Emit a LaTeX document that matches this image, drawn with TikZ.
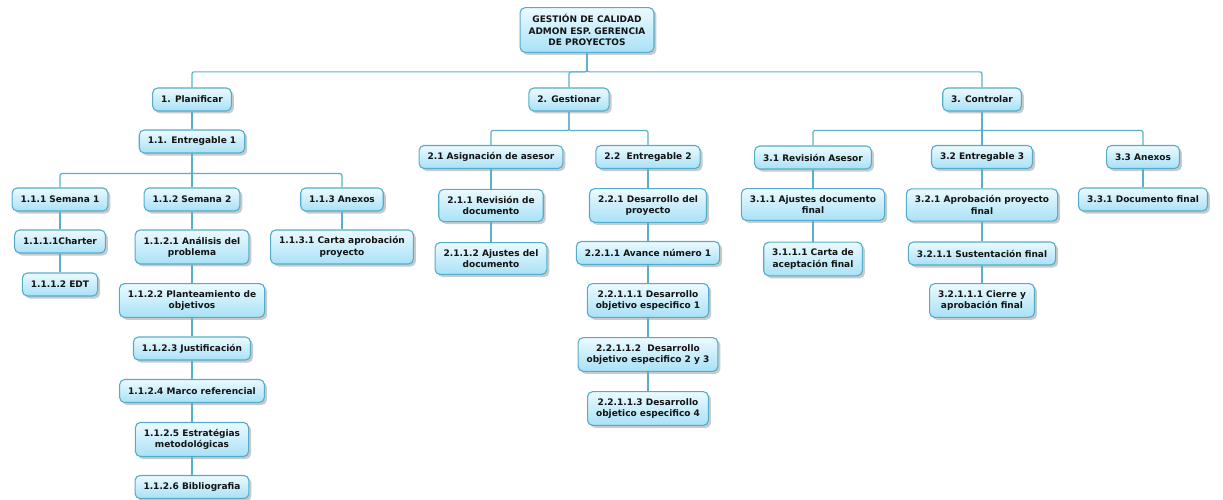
\documentclass[tikz,border=0pt]{standalone}
\usepackage{fontspec}
\setmainfont{DejaVu Sans}
\usetikzlibrary{shadows}
\definecolor{boxtop}{RGB}{236,250,255}
\definecolor{boxbot}{RGB}{168,225,246}
\definecolor{boxline}{RGB}{84,172,204}
\definecolor{connline}{RGB}{88,176,206}
\definecolor{txt}{RGB}{20,20,20}
\tikzset{
  wbs/.style={draw=boxline, line width=1.1pt, rounded corners=5pt,
    top color=boxtop, bottom color=boxbot,
    drop shadow={shadow xshift=2.5pt, shadow yshift=-2.5pt, fill=black!35, opacity=0.6},
    font=\fontsize{9}{11.3}\selectfont\bfseries, text=txt, align=center,
    inner xsep=8.5pt, inner ysep=6.8pt, minimum height=23pt},
  conn/.style={draw=connline, line width=1.2pt, rounded corners=2pt},
}
\begin{document}
\begin{tikzpicture}[x=1pt,y=-1pt]
\useasboundingbox (0,0) rectangle (1223,500);
% level 0
\node[wbs] (root) at (587,30) {GESTIÓN DE CALIDAD\\ADMON ESP. GERENCIA\\DE PROYECTOS};
% level 1
\node[wbs] (p1) at (192,99.5) {1. Planificar};
\node[wbs] (p2) at (569,99.5) {2. Gestionar};
\node[wbs] (p3) at (982,99.5) {3. Controlar};
% branch 1
\node[wbs] (e1) at (192,141.5) {1.1. Entregable 1};
\node[wbs] (s1) at (60,199.5) {1.1.1 Semana 1};
\node[wbs] (s2) at (192,199.5) {1.1.2 Semana 2};
\node[wbs] (a1) at (342,199.5) {1.1.3 Anexos};
\node[wbs] (ch) at (60,241.5) {1.1.1.1Charter};
\node[wbs] (edt) at (60,284.5) {1.1.1.2 EDT};
\node[wbs] (an) at (192,247) {1.1.2.1 Análisis del\\problema};
\node[wbs] (ca) at (342,247) {1.1.3.1 Carta aprobación\\proyecto};
\node[wbs] (pl) at (192,300.5) {1.1.2.2 Planteamiento de\\objetivos};
\node[wbs] (ju) at (192,348.5) {1.1.2.3 Justificación};
\node[wbs] (ma) at (192,391) {1.1.2.4 Marco referencial};
\node[wbs] (es) at (192,439.5) {1.1.2.5 Estratégias\\metodológicas};
\node[wbs] (bi) at (192,487) {1.1.2.6 Bibliografia};
% branch 2
\node[wbs] (g21) at (491,157) {2.1 Asignación de asesor};
\node[wbs] (g22) at (648,157) {2.2\ \ Entregable 2};
\node[wbs] (g211) at (491,205.5) {2.1.1 Revisión de\\documento};
\node[wbs] (g2112) at (491,258.5) {2.1.1.2 Ajustes del\\documento};
\node[wbs] (g221) at (648,205.5) {2.2.1 Desarrollo del\\proyecto};
\node[wbs] (g2211) at (648,253) {2.2.1.1 Avance número 1};
\node[wbs] (g22111) at (648,300.5) {2.2.1.1.1 Desarrollo\\objetivo especifico 1};
\node[wbs] (g22112) at (648,354.5) {2.2.1.1.2\ \ Desarrollo\\objetivo especifico 2 y 3};
\node[wbs] (g22113) at (648,408.5) {2.2.1.1.3 Desarrollo\\objetico especifico 4};
% branch 3
\node[wbs] (c31) at (813,157.5) {3.1 Revisión Asesor};
\node[wbs] (c32) at (982,157) {3.2 Entregable 3};
\node[wbs] (c33) at (1143,157) {3.3 Anexos};
\node[wbs] (c311) at (813,204.5) {3.1.1 Ajustes documento\\final};
\node[wbs] (c3111) at (813,259) {3.1.1.1 Carta de\\aceptación final};
\node[wbs] (c321) at (982,205) {3.2.1 Aprobación proyecto\\final};
\node[wbs] (c3211) at (982,253.5) {3.2.1.1 Sustentación final};
\node[wbs] (c32111) at (982,300.5) {3.2.1.1.1 Cierre y\\aprobación final};
\node[wbs] (c331) at (1143,199.5) {3.3.1 Documento final};
% connectors (drawn behind)
\begin{scope}[on background layer/.try]
\end{scope}
\foreach \c in {p1,p2,p3} \draw[conn] (root.south) -- ++(0,19) -| (\c.north);
\draw[conn] (p1) -- (e1);
\foreach \c in {s1,s2,a1} \draw[conn] (e1.south) -- ++(0,20) -| (\c.north);
\draw[conn] (s1) -- (ch); \draw[conn] (ch) -- (edt);
\draw[conn] (s2) -- (an); \draw[conn] (an) -- (pl); \draw[conn] (pl) -- (ju);
\draw[conn] (ju) -- (ma); \draw[conn] (ma) -- (es); \draw[conn] (es) -- (bi);
\draw[conn] (a1) -- (ca);
\foreach \c in {g21,g22} \draw[conn] (p2.south) -- ++(0,19) -| (\c.north);
\draw[conn] (g21) -- (g211); \draw[conn] (g211) -- (g2112);
\draw[conn] (g22) -- (g221); \draw[conn] (g221) -- (g2211);
\draw[conn] (g2211) -- (g22111); \draw[conn] (g22111) -- (g22112); \draw[conn] (g22112) -- (g22113);
\foreach \c in {c31,c32,c33} \draw[conn] (p3.south) -- ++(0,19) -| (\c.north);
\draw[conn] (c31) -- (c311); \draw[conn] (c311) -- (c3111);
\draw[conn] (c32) -- (c321); \draw[conn] (c321) -- (c3211); \draw[conn] (c3211) -- (c32111);
\draw[conn] (c33) -- (c331);
\end{tikzpicture}
\end{document}
